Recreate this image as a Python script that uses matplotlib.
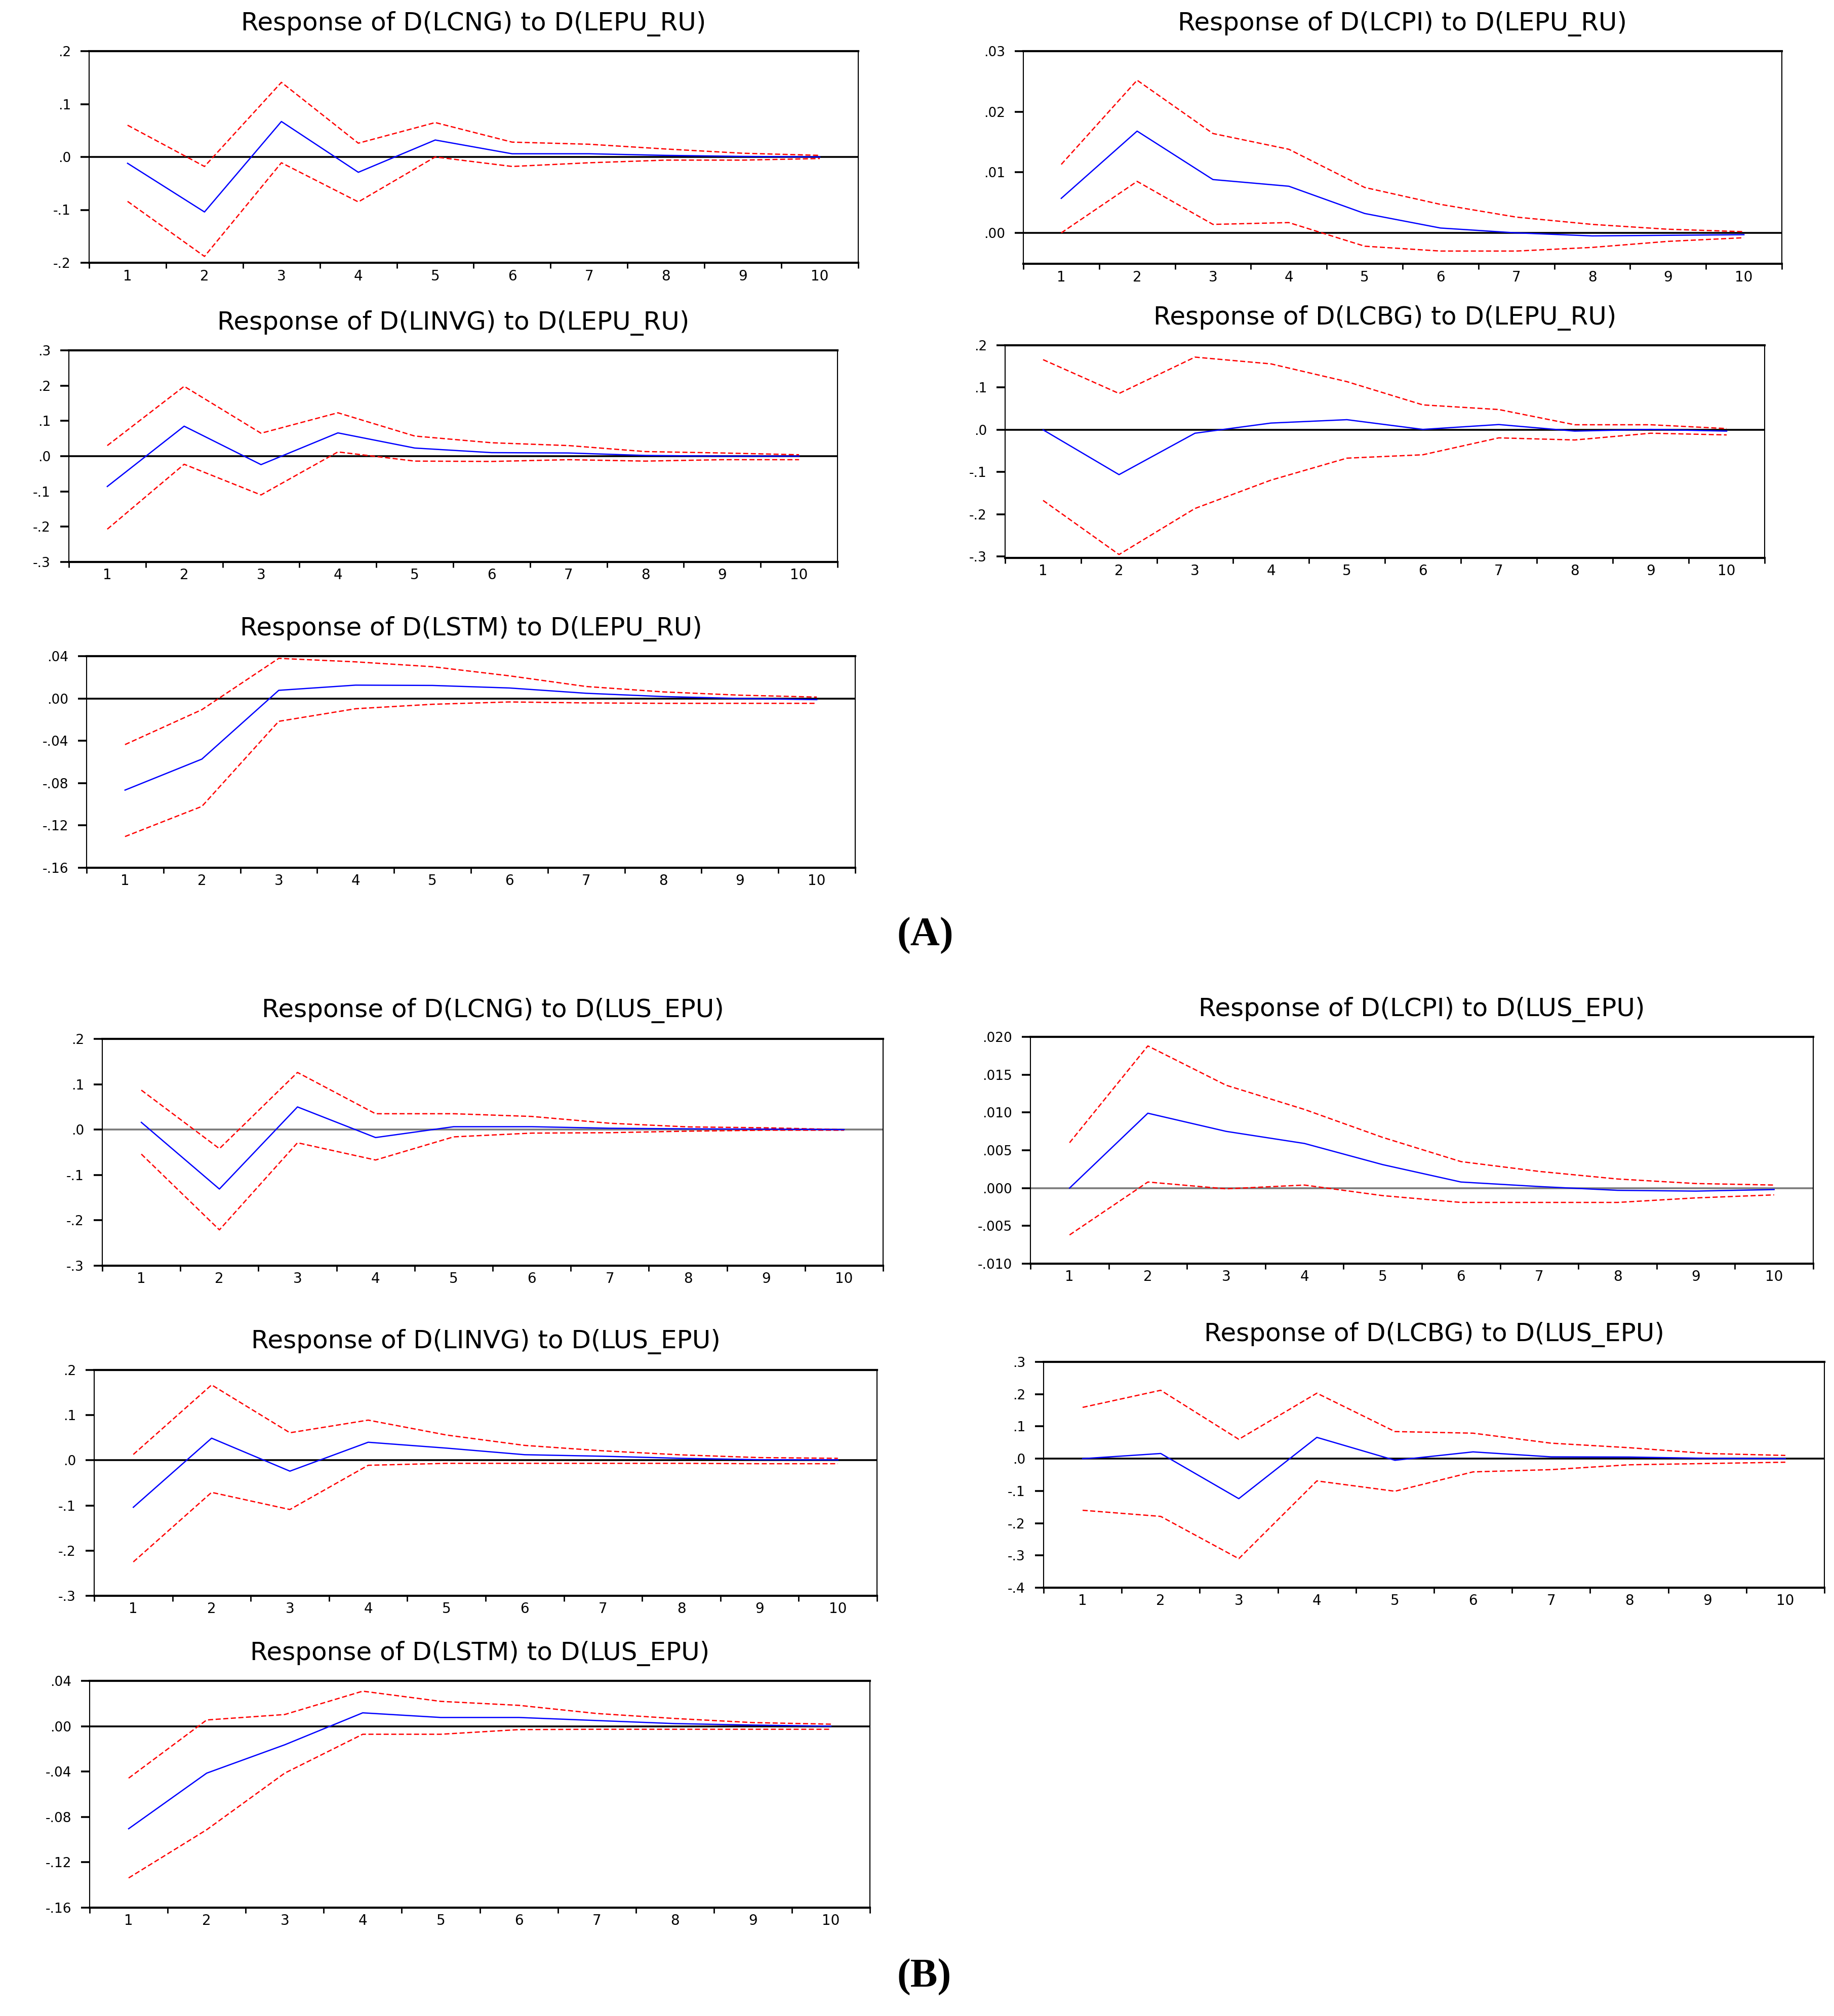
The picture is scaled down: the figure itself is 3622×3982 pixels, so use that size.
import matplotlib
matplotlib.use('Agg')
import matplotlib.pyplot as plt

# impulse responses, periods 1..10 (point estimate, upper band, lower band)
steps = list(range(1, 11))

# (A) shocks to D(LEPU_RU)
cng_ru_resp = [-0.012, -0.104, 0.067, -0.029, 0.032, 0.006, 0.006, 0.003, 0.001, 0.0]
cng_ru_upper = [0.060, -0.018, 0.141, 0.026, 0.065, 0.028, 0.024, 0.015, 0.007, 0.003]
cng_ru_lower = [-0.084, -0.188, -0.011, -0.085, 0.0, -0.018, -0.011, -0.006, -0.006, -0.003]

cpi_ru_resp = [0.0057, 0.0168, 0.0088, 0.0077, 0.0032, 0.0008, 0.0, -0.0005, -0.0004, -0.0003]
cpi_ru_upper = [0.0113, 0.0252, 0.0164, 0.0138, 0.0075, 0.0047, 0.0026, 0.0014, 0.0006, 0.0002]
cpi_ru_lower = [0.0, 0.0085, 0.0014, 0.0017, -0.0022, -0.0030, -0.0030, -0.0024, -0.0014, -0.0008]

invg_ru_resp = [-0.086, 0.085, -0.024, 0.066, 0.023, 0.010, 0.009, 0.002, 0.0, 0.0]
invg_ru_upper = [0.030, 0.198, 0.065, 0.123, 0.057, 0.038, 0.030, 0.013, 0.009, 0.004]
invg_ru_lower = [-0.207, -0.023, -0.110, 0.012, -0.014, -0.015, -0.010, -0.014, -0.010, -0.010]

cbg_ru_resp = [0.0, -0.106, -0.008, 0.016, 0.024, 0.001, 0.0125, -0.003, 0.001, -0.003]
cbg_ru_upper = [0.166, 0.086, 0.172, 0.156, 0.114, 0.059, 0.048, 0.012, 0.012, 0.003]
cbg_ru_lower = [-0.167, -0.295, -0.186, -0.119, -0.067, -0.059, -0.019, -0.024, -0.008, -0.012]

stm_ru_resp = [-0.0866, -0.0573, 0.0077, 0.0126, 0.0123, 0.0099, 0.0049, 0.0018, 0.0, -0.0011]
stm_ru_upper = [-0.0436, -0.0106, 0.0379, 0.0346, 0.0300, 0.0214, 0.0113, 0.0062, 0.0031, 0.0013]
stm_ru_lower = [-0.1305, -0.1020, -0.0216, -0.0097, -0.0055, -0.0033, -0.0042, -0.0046, -0.0046, -0.0046]

# (B) shocks to D(LUS_EPU)
cng_us_resp = [0.016, -0.131, 0.050, -0.0175, 0.0064, 0.0064, 0.003, 0.0017, 0.001, 0.0]
cng_us_upper = [0.087, -0.042, 0.126, 0.035, 0.035, 0.029, 0.014, 0.006, 0.004, 0.0]
cng_us_lower = [-0.054, -0.221, -0.029, -0.067, -0.016, -0.0077, -0.0068, -0.0034, -0.0013, -0.0013]

cpi_us_resp = [0.0, 0.0099, 0.0075, 0.0059, 0.0031, 0.0008, 0.0002, -0.0003, -0.0004, -0.0002]
cpi_us_upper = [0.0060, 0.0188, 0.0136, 0.0104, 0.0067, 0.0035, 0.0022, 0.0012, 0.0006, 0.0004]
cpi_us_lower = [-0.0062, 0.0008, -0.0001, 0.0004, -0.0010, -0.0019, -0.0019, -0.0019, -0.0013, -0.0009]

invg_us_resp = [-0.104, 0.049, -0.024, 0.040, 0.027, 0.0124, 0.009, 0.0044, 0.0013, 0.001]
invg_us_upper = [0.013, 0.167, 0.061, 0.089, 0.056, 0.033, 0.021, 0.012, 0.006, 0.0044]
invg_us_lower = [-0.225, -0.071, -0.109, -0.011, -0.0067, -0.0067, -0.0067, -0.0067, -0.0075, -0.0075]

cbg_us_resp = [0.0, 0.016, -0.124, 0.066, -0.005, 0.021, 0.0056, 0.005, 0.001, 0.0]
cbg_us_upper = [0.159, 0.212, 0.060, 0.203, 0.084, 0.079, 0.048, 0.034, 0.016, 0.010]
cbg_us_lower = [-0.160, -0.179, -0.310, -0.069, -0.101, -0.041, -0.034, -0.019, -0.015, -0.011]

stm_us_resp = [-0.0904, -0.0414, -0.0164, 0.0118, 0.0077, 0.0077, 0.0050, 0.0023, 0.0010, 0.0]
stm_us_upper = [-0.0458, 0.0055, 0.0103, 0.0309, 0.0219, 0.0184, 0.0112, 0.0068, 0.0032, 0.0018]
stm_us_lower = [-0.1338, -0.0913, -0.0414, -0.0071, -0.0071, -0.0030, -0.0027, -0.0027, -0.0027, -0.0027]

# y tick values and labels (EViews style)
ticks_pt1 = [-0.2, -0.1, 0.0, 0.1, 0.2]
labels_pt1 = ['-.2', '-.1', '.0', '.1', '.2']
ticks_cpi_ru = [0.0, 0.01, 0.02, 0.03]
labels_cpi_ru = ['.00', '.01', '.02', '.03']
ticks_pt3 = [-0.3, -0.2, -0.1, 0.0, 0.1, 0.2, 0.3]
labels_pt3 = ['-.3', '-.2', '-.1', '.0', '.1', '.2', '.3']
ticks_cbg_ru = [-0.3, -0.2, -0.1, 0.0, 0.1, 0.2]
labels_cbg_ru = ['-.3', '-.2', '-.1', '.0', '.1', '.2']
ticks_stm = [-0.16, -0.12, -0.08, -0.04, 0.0, 0.04]
labels_stm = ['-.16', '-.12', '-.08', '-.04', '.00', '.04']
ticks_cpi_us = [-0.010, -0.005, 0.0, 0.005, 0.010, 0.015, 0.020]
labels_cpi_us = ['-.010', '-.005', '.000', '.005', '.010', '.015', '.020']
ticks_cbg_us = [-0.4, -0.3, -0.2, -0.1, 0.0, 0.1, 0.2, 0.3]
labels_cbg_us = ['-.4', '-.3', '-.2', '-.1', '.0', '.1', '.2', '.3']

W, H = 3622, 3982
fig = plt.figure(figsize=(W / 100, H / 100), dpi=100)
fig.patch.set_facecolor('white')


def add_panel(box, title_y, title, resp, upper, lower, yticks, ylabels, ylim, zero_color='black'):
    left, right, top, bottom = box
    ax = fig.add_axes([left / W, 1 - bottom / H, (right - left) / W, (bottom - top) / H])

    ax.axhline(0, color=zero_color, lw=2.6, zorder=1.5)
    ax.plot(steps, upper, color='#ff0000', lw=1.8, dashes=(4, 2), zorder=2)
    ax.plot(steps, lower, color='#ff0000', lw=1.8, dashes=(4, 2), zorder=2)
    ax.plot(steps, resp, color='#0000ff', lw=1.8, zorder=3)

    ax.set_xlim(0.5, 10.5)
    ax.set_ylim(*ylim)

    # tick marks between periods, labels centred on the periods
    ax.set_xticks([i + 0.5 for i in range(0, 11)])
    ax.set_xticklabels([])
    ax.set_xticks(steps, minor=True)
    ax.set_xticklabels([str(s) for s in steps], minor=True)
    ax.tick_params(axis='x', which='major', direction='out', length=8, width=2)
    ax.tick_params(axis='x', which='minor', length=0, pad=9, labelsize=20)

    ax.set_yticks(yticks)
    ax.set_yticklabels(ylabels)
    ax.tick_params(axis='y', direction='out', length=12, width=2.6, pad=14, labelsize=19)

    for side in ['top', 'bottom']:
        ax.spines[side].set_linewidth(3)
    for side in ['left', 'right']:
        ax.spines[side].set_linewidth(1.5)

    fig.text((left + right) / 2 / W, 1 - title_y / H, title,
             ha='center', va='center', fontsize=36, family='DejaVu Sans')
    return ax


# (A)
add_panel((176, 1695, 101, 519), 47, 'Response of D(LCNG) to D(LEPU_RU)',
          cng_ru_resp, cng_ru_upper, cng_ru_lower, ticks_pt1, labels_pt1, (-0.2, 0.2))
add_panel((2021, 3519, 101, 521), 47, 'Response of D(LCPI) to D(LEPU_RU)',
          cpi_ru_resp, cpi_ru_upper, cpi_ru_lower, ticks_cpi_ru, labels_cpi_ru, (-0.0051, 0.03))
add_panel((136, 1654, 692, 1110), 638, 'Response of D(LINVG) to D(LEPU_RU)',
          invg_ru_resp, invg_ru_upper, invg_ru_lower, ticks_pt3, labels_pt3, (-0.3, 0.3))
add_panel((1985, 3485, 682, 1102), 628, 'Response of D(LCBG) to D(LEPU_RU)',
          cbg_ru_resp, cbg_ru_upper, cbg_ru_lower, ticks_cbg_ru, labels_cbg_ru, (-0.303, 0.2))
add_panel((171, 1689, 1296, 1714), 1242, 'Response of D(LSTM) to D(LEPU_RU)',
          stm_ru_resp, stm_ru_upper, stm_ru_lower, ticks_stm, labels_stm, (-0.16, 0.04))

fig.text(1827 / W, 1 - 1848 / H, '(A)', ha='center', va='center',
         fontsize=58, fontweight='bold', family='Liberation Serif')

# (B)
add_panel((202, 1744, 2052, 2500), 1996, 'Response of D(LCNG) to D(LUS_EPU)',
          cng_us_resp, cng_us_upper, cng_us_lower, ticks_pt3[:-1], labels_pt3[:-1], (-0.3, 0.2),
          zero_color='#7a7a7a')
add_panel((2035, 3581, 2048, 2496), 1994, 'Response of D(LCPI) to D(LUS_EPU)',
          cpi_us_resp, cpi_us_upper, cpi_us_lower, ticks_cpi_us, labels_cpi_us, (-0.010, 0.020),
          zero_color='#7a7a7a')
add_panel((186, 1732, 2706, 3152), 2650, 'Response of D(LINVG) to D(LUS_EPU)',
          invg_us_resp, invg_us_upper, invg_us_lower, ticks_pt3[:-1], labels_pt3[:-1], (-0.3, 0.2))
add_panel((2061, 3603, 2690, 3136), 2636, 'Response of D(LCBG) to D(LUS_EPU)',
          cbg_us_resp, cbg_us_upper, cbg_us_lower, ticks_cbg_us, labels_cbg_us, (-0.4, 0.3))
add_panel((177, 1718, 3320, 3768), 3266, 'Response of D(LSTM) to D(LUS_EPU)',
          stm_us_resp, stm_us_upper, stm_us_lower, ticks_stm, labels_stm, (-0.16, 0.04))

fig.text(1825 / W, 1 - 3905 / H, '(B)', ha='center', va='center',
         fontsize=58, fontweight='bold', family='Liberation Serif')

fig.savefig('out.png', dpi=100, facecolor='white')
